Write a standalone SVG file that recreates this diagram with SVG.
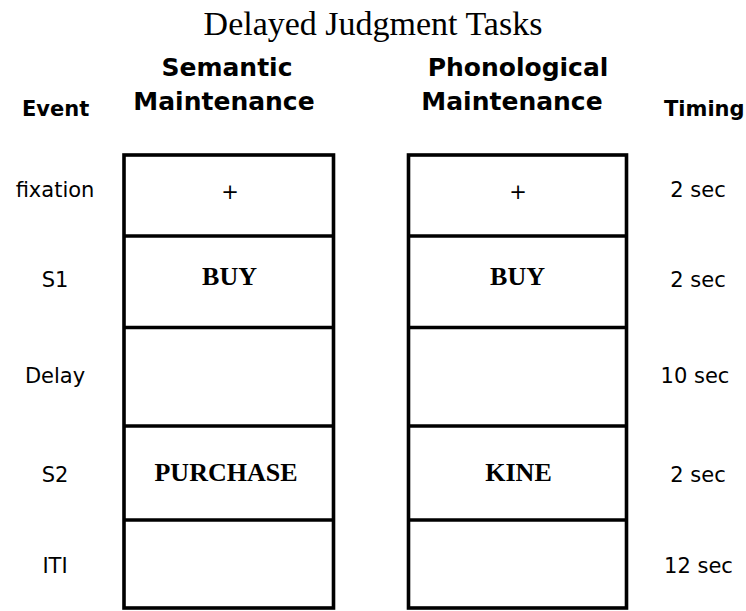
<svg xmlns="http://www.w3.org/2000/svg" width="746" height="611" viewBox="0 0 746 611">
<style>
.title{font-family:"Liberation Serif","Times New Roman",serif;font-size:34px;fill:#000}
.head{font-family:"DejaVu Sans",Verdana,sans-serif;font-weight:bold;font-size:25px;fill:#000}
.colh{font-family:"DejaVu Sans",Verdana,sans-serif;font-weight:bold;font-size:21px;fill:#000}
.lbl{font-family:"DejaVu Sans",Verdana,sans-serif;font-size:21px;fill:#000;text-anchor:middle}
.word{font-family:"Liberation Serif","Times New Roman",serif;font-weight:bold;font-size:26px;fill:#000;text-anchor:middle}
.box{fill:#fff;stroke:#000;stroke-width:3.6}
.div{stroke:#000;stroke-width:3.6}
</style>
<rect width="746" height="611" fill="#fff"/>
<text class="title" x="373" y="35" text-anchor="middle">Delayed Judgment Tasks</text>
<text class="head" x="227" y="76" text-anchor="middle">Semantic</text>
<text class="head" x="224" y="110" text-anchor="middle">Maintenance</text>
<text class="head" x="518" y="76" text-anchor="middle">Phonological</text>
<text class="head" x="512" y="110" text-anchor="middle">Maintenance</text>
<text class="colh" x="22" y="116">Event</text>
<text class="colh" x="664" y="116">Timing</text>

<g id="events">
<text class="lbl" x="55" y="197">fixation</text>
<text class="lbl" x="55" y="287">S1</text>
<text class="lbl" x="55" y="383">Delay</text>
<text class="lbl" x="55" y="482">S2</text>
<text class="lbl" x="55" y="573">ITI</text>
</g>

<g id="semantic">
<rect class="box" x="124" y="155" width="209.5" height="453"/>
<line class="div" x1="124" y1="236" x2="333.5" y2="236"/>
<line class="div" x1="124" y1="327.5" x2="333.5" y2="327.5"/>
<line class="div" x1="124" y1="426" x2="333.5" y2="426"/>
<line class="div" x1="124" y1="520" x2="333.5" y2="520"/>
<text class="lbl" x="230" y="199">+</text>
<text class="word" x="229.5" y="285">BUY</text>
<text class="word" x="226" y="481">PURCHASE</text>
</g>

<g id="phonological">
<rect class="box" x="408.5" y="155" width="218" height="453"/>
<line class="div" x1="408.5" y1="236" x2="626.5" y2="236"/>
<line class="div" x1="408.5" y1="327.5" x2="626.5" y2="327.5"/>
<line class="div" x1="408.5" y1="426" x2="626.5" y2="426"/>
<line class="div" x1="408.5" y1="520" x2="626.5" y2="520"/>
<text class="lbl" x="518" y="199">+</text>
<text class="word" x="517.5" y="285">BUY</text>
<text class="word" x="518.5" y="481">KINE</text>
</g>

<g id="timing">
<text class="lbl" x="698" y="197">2 sec</text>
<text class="lbl" x="698" y="287">2 sec</text>
<text class="lbl" x="695" y="383">10 sec</text>
<text class="lbl" x="698" y="482">2 sec</text>
<text class="lbl" x="698.5" y="573">12 sec</text>
</g>
</svg>
